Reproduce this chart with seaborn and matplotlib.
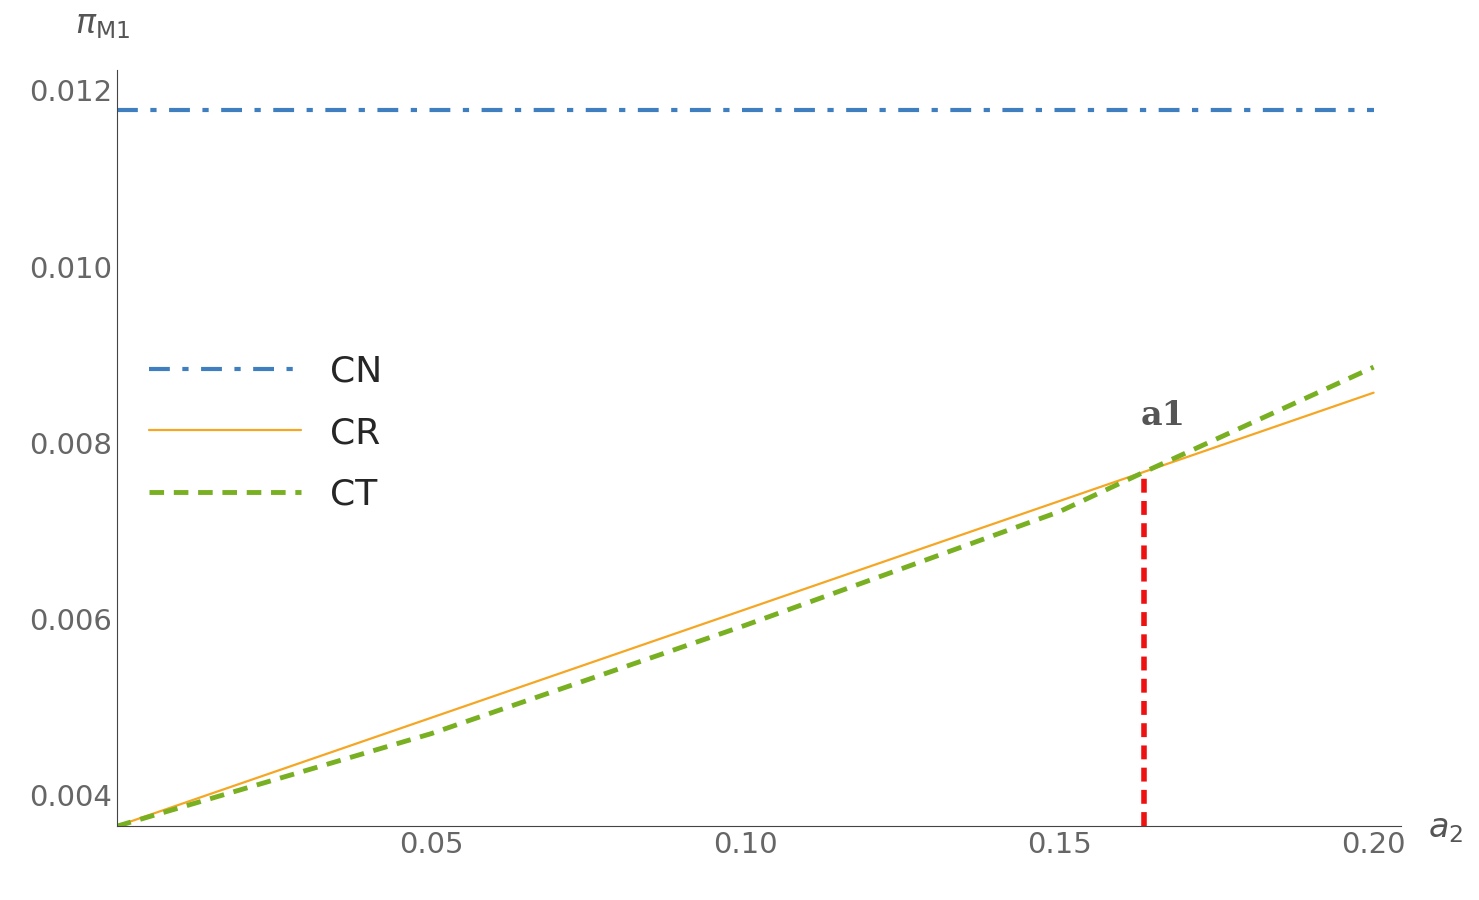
import matplotlib
matplotlib.use("Agg")
import matplotlib.pyplot as plt
import seaborn as sns
import numpy as np
from matplotlib.ticker import MultipleLocator

sns.set_style("white")
plt.rcParams['font.family'] = ['DejaVu Sans']

a2 = [0.0, 0.2]
cn = [0.01178, 0.01178]
cr = [0.00365, 0.00857]
ct_x = [0.0, 0.05, 0.10, 0.15, 0.1635, 0.2]
ct = [0.00365, 0.00470, 0.00593, 0.00722, 0.00767, 0.00886]
a1_x = 0.1635
a1_y = 0.00767

fig = plt.figure(figsize=(14.79, 9), dpi=100)
ax = fig.add_axes([0.079, 0.082, 0.868, 0.84])
sns.lineplot(x=a2, y=cn, ax=ax, color="#3f7fbf", lw=3, linestyle=(0, (5, 3, 1.5, 3)), label="CN")
sns.lineplot(x=a2, y=cr, ax=ax, color="#f5a623", lw=1.6, label="CR")
sns.lineplot(x=ct_x, y=ct, ax=ax, color="#78b022", lw=3.5, linestyle=(0, (3, 2)), label="CT")
ax.plot([a1_x, a1_x], [0.00365, a1_y], color="#ee1111", lw=4, linestyle=(0, (2.5, 1.5)))
ax.text(a1_x + 0.003, 0.0082, "a1", fontsize=24, fontweight="bold", family="DejaVu Serif", color="#555555", ha="center")

ax.set_xlim(0, 0.2043)
ax.set_ylim(0.00365, 0.01223)
ax.set_xticks([0.05, 0.10, 0.15, 0.20])
ax.set_xticklabels(["0.05", "0.10", "0.15", "0.20"])
ax.set_yticks([0.004, 0.006, 0.008, 0.010, 0.012])
ax.set_yticklabels(["0.004", "0.006", "0.008", "0.010", "0.012"])
ax.xaxis.set_minor_locator(MultipleLocator(0.01))
ax.yaxis.set_minor_locator(MultipleLocator(0.0004))
ax.tick_params(axis="both", which="major", direction="in", length=9, width=1, colors="#444444", labelsize=21, labelcolor="#666666")
ax.tick_params(axis="both", which="minor", direction="in", length=5, width=1, colors="#444444")
for s in ["top", "right"]:
    ax.spines[s].set_visible(False)
for s in ["left", "bottom"]:
    ax.spines[s].set_color("#444444")
ax.set_xlabel(""); ax.set_ylabel("")
fig.text(1428/1479, 1-828/900, "$a_2$", fontsize=24, color="#555555", va="center")
fig.text(75/1479, 1-25/900, r"$\pi_{\mathrm{M1}}$", fontsize=24, color="#555555", va="center")
ax.legend(loc="center left", bbox_to_anchor=(0.0, 0.52), frameon=False, fontsize=26,
          handlelength=4.2, labelspacing=0.75, handletextpad=0.8)
fig.savefig("out.png", dpi=100)
